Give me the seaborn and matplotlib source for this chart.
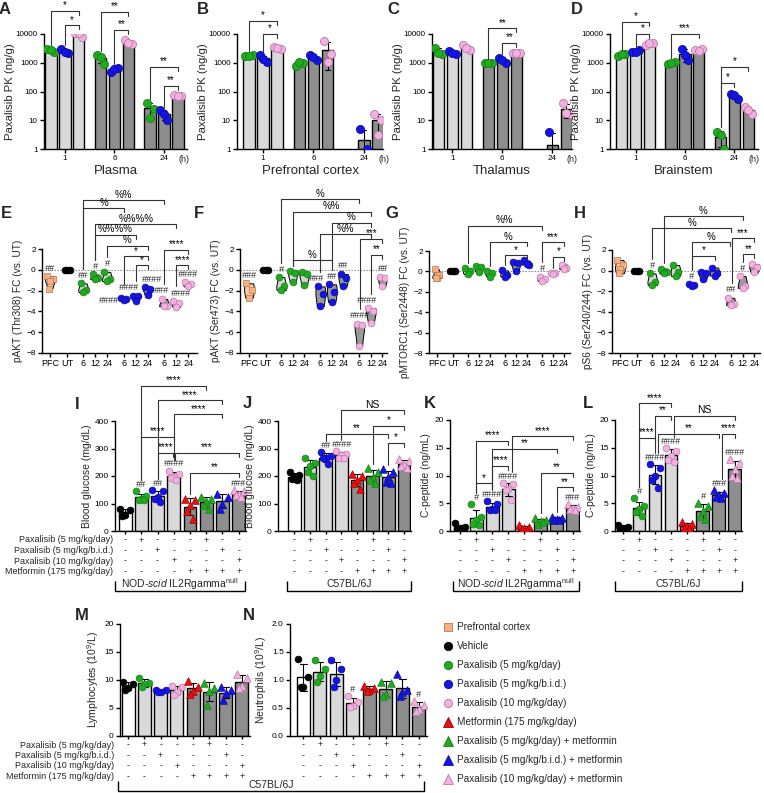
import numpy as np
import pandas as pd
import matplotlib
matplotlib.use("Agg")
import matplotlib.pyplot as plt
import seaborn as sns
from matplotlib.lines import Line2D
from matplotlib.ticker import NullLocator
from matplotlib.transforms import blended_transform_factory

sns.set_theme(style="ticks")
plt.rcParams["font.family"] = ["Liberation Sans", "DejaVu Sans"]
plt.rcParams["mathtext.fontset"] = "custom"
plt.rcParams["mathtext.rm"] = "Liberation Sans"
plt.rcParams["mathtext.it"] = "Liberation Sans:italic"
plt.rcParams["axes.linewidth"] = 1.0

# ------------------------------------------------------------------ data
PK_TIMES = ["1", "6", "24"]
# 9 bars per tissue: (1h: 5/day, 5 b.i.d., 10/day), (6h: ...), (24h: ...)
plasma_pts = [[3000, 2300, 2800], [3000, 2200, 2400], [11000, 8000, 11000],
              [1800, 900, 1600], [480, 650, 620], [6000, 4500, 5000],
              [40, 25, 12], [22, 10, 16], [75, 68, 72]]
pfc_pts = [[1700, 1900, 1700], [1800, 1100, 1400], [3500, 2900, 3200],
           [800, 1000, 1050], [1800, 1200, 1600], [5500, 2000, 1100],
           [], [5, 1, 0], [17, 10, 3]]
thal_pts = [[3300, 2000, 2100], [2500, 2000, 2100], [4200, 2800, 3200],
            [1000, 950, 1000], [1500, 1000, 1200], [2200, 2100, 2200],
            [], [4, 0, 0], [40, 17, 18]]
brain_pts = [[1700, 2000, 2000], [2300, 2800, 2300], [4000, 5000, 4700],
             [900, 1100, 1000], [3000, 1200, 1800], [2700, 2900, 2600],
             [4, 1, 3], [80, 55, 75], [28, 17, 22]]

# fold change panels: PFC, UT, 6/12/24 (5/day), 6/12/24 (5 b.i.d.), 6/12/24 (10/day)
FC_LABELS = ["PFC", "UT", "6", "12", "24", "6", "12", "24", "6", "12", "24"]
pakt308 = [[-0.6, -0.9, -1.1, -1.8], [0, 0, 0], [-1.3, -1.9, -2.15], [-0.45, -0.8, -0.9],
           [-0.2, -0.9, -1.1], [-2.75, -2.85, -2.9], [-2.5, -2.5, -3.0], [-1.7, -1.8, -2.4],
           [-2.8, -3.5, -3.45], [-3.0, -3.2, -3.6], [-1.2, -1.4, -1.6]]
pakt473 = [[-1.3, -1.9, -2.7], [0, 0, 0], [-0.7, -1.6, -1.95], [-0.1, -0.3, -1.2],
           [-0.2, -0.4, -1.5], [-1.6, -2.3, -3.5], [-1.4, -2.1, -3.1], [-0.4, -0.8, -1.6],
           [-5.2, -5.3, -7.3], [-3.7, -4.0, -5.1], [-0.65, -0.75, -1.6]]
pmtor = [[0.2, -0.35, -0.6, -0.65], [0, 0, 0], [0.33, 0.0, -0.27], [0.5, 0.4, -0.07],
         [0.0, -0.17, -0.5], [0.1, -0.33, -0.5], [0.9, 0.83, 0.0], [1.07, 0.67, 0.7],
         [-0.5, -0.77, -0.93], [-0.15, -0.17, -0.27], [0.67, 0.33, 0.23]]
ps6 = [[1.03, 0.54, 0.12, -0.27], [0, 0, 0], [-0.27, -1.08, -1.4], [0.2, -0.1, -0.27],
       [0.54, -0.1, -0.53], [-1.3, -1.4, -1.5], [-0.1, -0.2, -0.86], [0.3, -0.27, -0.5],
       [-2.64, -3.2, -3.36], [-0.53, -1.5, -1.67], [0.64, 0.31, -0.18]]

# 8 treatment groups: vehicle, pax 5/day, pax 5 bid, pax 10/day, metformin, + combos
glu_nsg = [[81, 76, 58, 55], [144, 126, 118, 114, 112], [148, 145, 124, 118, 105],
           [220, 208, 196, 193, 187], [118, 112, 95, 72, 45], [125, 118, 108, 95, 80],
           [136, 125, 100, 80], [150, 144, 136, 130, 124]]
glu_b6 = [[215, 205, 195, 190, 185], [264, 246, 236, 215, 199], [288, 272, 267, 264, 245],
          [292, 280, 275, 267, 264], [209, 199, 185, 175, 154], [228, 215, 195, 185, 175],
          [225, 215, 195, 180, 175], [262, 255, 245, 235, 228]]
cpep_nsg = [[1.4, 0.8, 0.6, 0.4, 0.3], [4.8, 2.6, 2.0, 1.3, 1.0], [5.4, 4.9, 4.0, 3.8, 3.7],
            [8.6, 8.4, 7.6, 7.3, 5.6], [1.0, 0.7, 0.5, 0.3, 0.25], [2.4, 1.9, 1.8, 1.3, 1.6],
            [2.6, 2.4, 2.2, 2.0, 1.9], [4.9, 4.3, 4.1, 3.9, 3.8]]
cpep_b6 = [[1.0, 0.7, 0.5, 0.4, 0.6], [5.9, 4.5, 3.9, 3.5, 2.7], [12.1, 11.4, 10.0, 9.2, 7.8],
           [15.0, 14.5, 13.6, 12.8, 12.4], [1.7, 1.2, 0.9, 0.6, 0.5], [5.0, 4.5, 3.6, 2.7, 2.1],
           [7.3, 6.8, 6.5, 6.2, 6.0], [13.0, 12.3, 11.2, 10.0, 9.5]]
lymph = [[9.6, 9.3, 8.5, 8.2], [10.4, 9.5, 9.2, 8.7], [8.3, 8.2, 7.9, 7.9], [9.0, 8.7, 7.8, 7.4],
         [9.8, 8.8, 8.0, 7.5], [9.5, 8.5, 8.0, 5.5], [8.75, 8.2, 7.6, 6.4], [11.0, 10.4, 9.0, 8.5]]
neutro = [[1.38, 1.05, 0.88, 0.88], [1.36, 1.2, 1.08, 0.96], [1.36, 1.2, 1.0, 0.88],
          [0.72, 0.6, 0.53, 0.52], [0.9, 0.85, 0.83, 0.8], [0.97, 0.95, 0.75, 0.72],
          [1.1, 0.82, 0.78, 0.72], [0.62, 0.55, 0.48, 0.45]]

ROW_LABELS = ["Paxalisib (5 mg/kg/day)", "Paxalisib (5 mg/kg/b.i.d.)",
              "Paxalisib (10 mg/kg/day)", "Metformin (175 mg/kg/day)"]
SIGNS = [["-", "+", "-", "-", "-", "+", "-", "-"],
         ["-", "-", "+", "-", "-", "-", "+", "-"],
         ["-", "-", "-", "+", "-", "-", "-", "+"],
         ["-", "-", "-", "-", "+", "+", "+", "+"]]
LEGEND_LABELS = ["Prefrontal cortex", "Vehicle", "Paxalisib (5 mg/kg/day)",
                 "Paxalisib (5 mg/kg/b.i.d.)", "Paxalisib (10 mg/kg/day)",
                 "Metformin (175 mg/kg/day)", "Paxalisib (5 mg/kg/day) + metformin",
                 "Paxalisib (5 mg/kg/b.i.d.) + metformin", "Paxalisib (10 mg/kg/day) + metformin"]

# significance annotations (text, from, to, bracket height)
A_BR = [("*", 0, 2, 4.8), ("*", 1, 2, 4.3), ("**", 3, 5, 4.78), ("**", 4, 5, 4.15),
        ("**", 6, 8, 2.85), ("**", 7, 8, 2.2)]
B_BR = [("*", 0, 2, 4.45), ("*", 1, 2, 4.0)]
C_BR = [("**", 3, 5, 4.2), ("**", 4, 5, 3.7)]
D_BR = [("*", 0, 2, 4.42), ("*", 1, 2, 4.0), ("***", 3, 5, 4.0), ("*", 6, 8, 2.86), ("*", 6, 7, 2.3)]
E_BR = [("%%", 2, 8, 6.7), ("%", 2, 5, 5.9), ("%%%%", 3, 9, 4.4), ("%%%%", 3, 6, 3.35),
        ("%", 4, 7, 2.3), ("*", 5, 7, 1.3), ("*", 6, 7, 0.45), ("****", 8, 10, 1.9), ("****", 9, 10, 0.45)]
F_BR = [("%", 2, 8, 6.8), ("%%", 3, 9, 5.56), ("%", 6, 9, 4.5), ("%%", 5, 9, 3.44),
        ("***", 8.05, 10, 2.96), ("**", 9, 10, 1.42), ("%", 3, 6, 0.94)]
G_BR = [("%%", 2, 8, 4.5), ("%", 4, 7, 2.87), ("*", 5, 7, 1.6), ("***", 8, 10, 2.87), ("*", 9, 10, 1.42)]
H_BR = [("%", 3, 9, 5.3), ("%", 2, 8, 4.1), ("%", 5, 7.95, 2.77), ("***", 8.05, 10, 3.15),
        ("*", 5, 7, 1.42), ("**", 9, 10, 1.6)]
I_BR = [("****", 1, 5, 527), ("****", 2, 6, 476), ("****", 3, 6, 425), ("****", 1, 3, 342),
        ("****", 2, 2.95, 284), ("***", 3.1, 7, 284), ("**", 4, 7, 211)]
J_BR = [("NS", 3, 7, 440), ("*", 5, 7, 383), ("**", 2, 6, 354), ("*", 6, 7, 321)]
K_BR = [("****", 1, 3, 16.25), ("****", 3.2, 7, 17.1), ("**", 2, 6, 14.8), ("****", 2, 3, 11.8),
        ("**", 5, 7, 10.5), ("*", 1, 2, 8.6), ("**", 6, 7, 7.9)]
L_BR = [("****", 1, 3, 23), ("**", 2, 3, 20.8), ("NS", 3.2, 7, 20.8), ("****", 1, 2, 16.8),
        ("**", 2.2, 6, 17.5), ("****", 6.2, 7, 17.5)]

# "#" marks vs. untreated/vehicle: index -> (text, x shift pt, y shift pt)
E_HASH = {0: ("##", 0, 2.5), 2: ("##", 0, 2.5), 3: ("#", 0, 2.5), 4: ("#", 0, 2.5),
          5: ("####", -11, -5), 6: ("####", -5, 2.5), 7: ("####", 3, 2.5), 8: ("###", -2, 2.5),
          9: ("####", 3, 2.5), 10: ("####", 0, 2.5)}
F_HASH = {0: ("###", 0, 2.5), 2: ("#", 0, 2.5), 5: ("###", -3, 2.5), 6: ("##", 0, 2.5),
          7: ("##", 0, 2.5), 8: ("####", 0, 2.5), 9: ("####", -3, 2.5), 10: ("##", 0, 2.5)}
G_HASH = {8: ("#", 0, 2.5)}
H_HASH = {2: ("#", 0, 2.5), 5: ("#", 0, 2.5), 8: ("##", 0, 2.5), 9: ("#", 0, 2.5)}
I_HASH = {1: "##", 2: "##", 3: "####", 7: "###"}
J_HASH = {2: "##", 3: "####"}
K_HASH = {1: "#", 2: "####", 3: "####", 7: "###"}
L_HASH = {1: "#", 2: "####", 3: "####", 5: "#", 6: "###", 7: "####"}
M_HASH = {}
N_HASH = {3: "#", 7: "#"}

# ------------------------------------------------------------------ style
GREEN, GREEN_E = "#1faa1f", "#178017"
BLUE, BLUE_E = "#1414e6", "#0c0c9a"
PINK, PINK_E = "#f5aee0", "#b77aa8"
RED, RED_E = "#e81010", "#a00000"
ORANGE, ORANGE_E = "#f5b183", "#b9794d"
LIGHT, DARK = "#d9d9d9", "#8e8e8e"
DOSE_COL = [GREEN, BLUE, PINK]
DOSE_EDGE = [GREEN_E, BLUE_E, PINK_E]
SPREAD = np.array([-0.25, 0.25, 0.0, -0.13, 0.13])
PK_STEP = 3.57
XPOS = [0, 1.45, 2.8, 3.8, 4.8, 6.2, 7.2, 8.2, 9.6, 10.6, 11.6]
VGRP = ["pfc", "ut", "g", "g", "g", "b", "b", "b", "p", "p", "p"]
VFILL = {"pfc": "#f8c9a6", "g": "#d4d4d4", "b": "#9a9a9a", "p": "#9a9a9a"}
VPT = {"pfc": (ORANGE, ORANGE_E, "s"), "ut": ("black", "black", "o"), "g": (GREEN, GREEN_E, "o"),
       "b": (BLUE, BLUE_E, "o"), "p": (PINK, PINK_E, "o")}
BAR_SHADE = ["veh", "pax", "pax", "pax", "met", "met", "met", "met"]
BAR_FILL = {"veh": "white", "pax": LIGHT, "met": DARK}
BAR_PT = [("black", "black", "o"), (GREEN, GREEN_E, "o"), (BLUE, BLUE_E, "o"), (PINK, PINK_E, "o"),
          (RED, RED_E, "^"), (GREEN, GREEN_E, "^"), (BLUE, BLUE_E, "^"), (PINK, PINK_E, "^")]

W, H = 764, 793
fig = plt.figure(figsize=(W / 100, H / 100), dpi=100)
RECTS = {}


def add_ax(key, l, t, r, b):
    ax = fig.add_axes([l / W, 1 - b / H, (r - l) / W, (b - t) / H])
    ax.patch.set_alpha(0)
    RECTS[key] = (l, t, r, b)
    return ax


def style_ax(ax, fs=6):
    sns.despine(ax=ax)
    for s in ("left", "bottom"):
        ax.spines[s].set_linewidth(1.0)
        ax.spines[s].set_color("black")
    ax.tick_params(axis="both", direction="out", length=3, width=1.0, colors="black",
                   labelsize=fs, pad=1.5)
    ax.set_xlabel("")


def ftext(px, py, s, **kw):
    fig.text(px / W, 1 - py / H, s, **kw)


def fline(xs, ys, lw=0.9, color="black"):
    fig.add_artist(Line2D([x / W for x in xs], [1 - y / H for y in ys], lw=lw, color=color,
                          transform=fig.transFigure, solid_capstyle="butt"))


def bracket(ax, x1, x2, ytop, text, yleft, fs=7):
    inv = fig.transFigure.inverted()
    p1 = ax.transData.transform((x1, ytop))
    p2 = ax.transData.transform((x2, ytop))
    pl = ax.transData.transform((x1, yleft))
    yl = min(pl[1], p1[1] - 4)
    ys = [yl, p1[1], p1[1], p1[1] - 4]
    xs = [p1[0], p1[0], p2[0], p2[0]]
    pts = inv.transform(np.column_stack([xs, ys]))
    fig.add_artist(Line2D(pts[:, 0], pts[:, 1], lw=0.8, color="#333333", transform=fig.transFigure))
    c = inv.transform(((p1[0] + p2[0]) / 2, p1[1] + 0.5))
    fig.text(c[0], c[1], text, ha="center", va="bottom", fontsize=fs if text != "NS" else 7.5,
             color="black")


def top_of(vals):
    a = np.asarray(vals, dtype=float)
    if a.size == 0:
        return 0.0
    sd = a.std(ddof=1) if a.size > 1 else 0.0
    return max(a.max(), a.mean() + sd)


# ------------------------------------------------------------------ row 1: PK
def pk_panel(key, rect, pts, xlabel, xlim, brackets):
    ax = add_ax(key, *rect)
    rows = []
    for i, vals in enumerate(pts):
        g, d = divmod(i, 3)
        for k, v in enumerate(vals):
            rows.append({"pos": g * PK_STEP + d, "x": g * PK_STEP + d + SPREAD[k], "val": v,
                         "shade": "light" if g == 0 else "dark", "dose": d})
    df = pd.DataFrame(rows)
    sns.barplot(data=df, x="pos", y="val", hue="shade", palette={"light": LIGHT, "dark": DARK},
                native_scale=True, dodge=False, estimator="mean", errorbar="sd", capsize=0.35,
                err_kws={"color": "black", "linewidth": 0.8}, width=0.82, edgecolor="black",
                linewidth=1.0, saturation=1, legend=False, ax=ax)
    for d in range(3):
        sub = df[(df.dose == d) & (df.val > 0)]
        sns.scatterplot(data=sub, x="x", y="val", color=DOSE_COL[d], edgecolor=DOSE_EDGE[d],
                        s=34, linewidth=0.6, legend=False, ax=ax, zorder=5)
    ax.set_yscale("log")
    ax.set_ylim(1, 10000)
    ax.set_yticks([1, 10, 100, 1000, 10000])
    ax.set_yticklabels(["1", "10", "100", "1000", "10000"])
    ax.yaxis.set_minor_locator(NullLocator())
    ax.set_xlim(*xlim)
    ax.set_xticks([1 + g * PK_STEP for g in range(3)])
    ax.set_xticklabels(PK_TIMES)
    style_ax(ax, fs=5.8)
    ax.set_ylabel("Paxalisib PK (ng/g)", fontsize=8.2, labelpad=0.8)
    ax.annotate("(h)", xy=(9.55, 0), xycoords=("data", "axes fraction"), xytext=(0, -4.5),
                textcoords="offset points", ha="center", va="top", fontsize=6.5)
    ax.text(0.5, -0.14, xlabel, transform=ax.transAxes, ha="center", va="top", fontsize=9.5)
    tops = [top_of([v for v in vals]) for vals in pts]
    for txt, i1, i2, e in brackets:
        x1 = (i1 // 3) * PK_STEP + i1 % 3
        x2 = (i2 // 3) * PK_STEP + i2 % 3
        bracket(ax, x1, x2, 10 ** e, txt, max(tops[i1], 1) * 1.35)
    return ax


pk_panel("A", (44, 34, 187, 149), plasma_pts, "Plasma", (-0.5, 9.8), A_BR)
pk_panel("B", (237, 34, 383, 149), pfc_pts, "Prefrontal cortex", (-0.85, 9.5), B_BR)
pk_panel("C", (432, 34, 572, 149), thal_pts, "Thalamus", (-0.45, 9.55), C_BR)
pk_panel("D", (610, 34, 758, 149), brain_pts, "Brainstem", (-0.85, 9.85), D_BR)


# ------------------------------------------------------------------ row 2: fold change
def fc_panel(key, rect, vals, ylabel, xlim, brackets, hashes):
    ax = add_ax(key, *rect)
    rows = []
    for i, vs in enumerate(vals):
        for k, v in enumerate(vs):
            rows.append({"pos": XPOS[i], "x": XPOS[i] + SPREAD[k] * 0.9, "val": v, "grp": VGRP[i]})
    df = pd.DataFrame(rows)
    ax.axhline(0, color="#808080", ls=(0, (1.2, 1.5)), lw=0.8, zorder=0)
    vdf = df[df.grp != "ut"]
    sns.violinplot(data=vdf, x="pos", y="val", hue="grp", palette=VFILL, native_scale=True,
                   dodge=False, cut=0, inner=None, width=0.85, density_norm="width",
                   linewidth=0.7, linecolor="black", saturation=1, legend=False, ax=ax)
    for g, (fc, ec, mk) in VPT.items():
        sub = df[df.grp == g]
        sns.scatterplot(data=sub, x="x", y="val", color=fc, edgecolor=ec, marker=mk, s=24,
                        linewidth=0.5, legend=False, ax=ax, zorder=5)
    ax.set_ylim(-8, 2)
    ax.set_yticks([-8, -6, -4, -2, 0, 2])
    ax.set_xlim(*xlim)
    ax.set_xticks(XPOS)
    ax.set_xticklabels(FC_LABELS)
    style_ax(ax)
    ax.tick_params(axis="x", labelsize=6.5)
    ax.set_ylabel(ylabel, fontsize=7.3, labelpad=2)
    tops = [max(v) for v in vals]
    for i, (t, dx, dy) in hashes.items():
        ax.annotate(t, (XPOS[i], tops[i]), xytext=(dx, dy), textcoords="offset points",
                    ha="center", va="bottom", fontsize=6.5, style="italic")
    for txt, i1, i2, yt in brackets:
        x1 = np.interp(i1, range(len(XPOS)), XPOS)
        x2 = np.interp(i2, range(len(XPOS)), XPOS)
        gap = 1.4 if int(round(i1)) in hashes else 0.5
        bracket(ax, x1, x2, yt, txt, tops[int(round(i1))] + gap)
    return ax


fc_panel("E", (42, 249, 197, 353), pakt308, "pAKT (Thr308) FC (vs. UT)", (-0.67, 12.35), E_BR, E_HASH)
fc_panel("F", (240, 249, 387, 353), pakt473, "pAKT (Ser473) FC (vs. UT)", (-0.78, 12.0), F_BR, F_HASH)
fc_panel("G", (429, 251, 570, 353), pmtor, "pMTORC1 (Ser2448) FC (vs. UT)", (-0.73, 12.15), G_BR, G_HASH)
fc_panel("H", (612, 250, 760, 353), ps6, "pS6 (Ser240/244) FC (vs. UT)", (-0.69, 12.1), H_BR, H_HASH)


# ------------------------------------------------------------------ rows 3/4: bars
def bar_panel(key, rect, pts, ylabel, ylim, yticks, xlim, brackets, hashes, ytl=None):
    ax = add_ax(key, *rect)
    rows = []
    for i, vs in enumerate(pts):
        for k, v in enumerate(vs):
            rows.append({"pos": i, "x": i + SPREAD[k] * 1.25, "val": v, "shade": BAR_SHADE[i], "grp": i})
    df = pd.DataFrame(rows)
    sns.barplot(data=df, x="pos", y="val", hue="shade", palette=BAR_FILL, native_scale=True,
                dodge=False, estimator="mean", errorbar="sd", capsize=0.4,
                err_kws={"color": "black", "linewidth": 0.8}, width=0.8, edgecolor="black",
                linewidth=1.0, saturation=1, legend=False, ax=ax)
    for i, (fc, ec, mk) in enumerate(BAR_PT):
        sub = df[df.grp == i]
        sns.scatterplot(data=sub, x="x", y="val", color=fc, edgecolor=ec, marker=mk,
                        s=30 if mk == "^" else 24, linewidth=0.5, legend=False, ax=ax, zorder=5)
    ax.set_ylim(*ylim)
    ax.set_yticks(yticks)
    if ytl is not None:
        ax.set_yticklabels(ytl)
    ax.set_xlim(*xlim)
    ax.set_xticks(range(8))
    ax.set_xticklabels([])
    style_ax(ax)
    ax.tick_params(axis="x", length=2.5)
    ax.set_ylabel(ylabel, fontsize=7.5, labelpad=2)
    tops = [top_of(v) for v in pts]
    for i, t in hashes.items():
        ax.annotate(t, (i, tops[i]), xytext=(0, 1.5), textcoords="offset points",
                    ha="center", va="bottom", fontsize=6.5, style="italic")
    for txt, i1, i2, yt in brackets:
        j = int(round(i1))
        gap = (ylim[1] - ylim[0]) * (0.1 if j in hashes else 0.04)
        bracket(ax, i1, i2, yt, txt, tops[j] + gap)
    return ax


def sign_table(key, ax, rows_px, labels_right=None):
    l, t, r, b = RECTS[key]
    tr = blended_transform_factory(ax.transData, ax.transAxes)
    for row, ypx in zip(SIGNS, rows_px):
        yf = (b - ypx) / (b - t)
        for i, s in enumerate(row):
            ax.text(i, yf, s, transform=tr, ha="center", va="center", fontsize=6.3)
    if labels_right is not None:
        for lab, ypx in zip(ROW_LABELS, rows_px):
            ftext(labels_right, ypx, lab, ha="right", va="center", fontsize=6.5)


def group_label(x1, x2, ytext, ybottom, text, fs=7.5):
    fline([x1, x1, x2, x2], [ybottom - 10, ybottom, ybottom, ybottom - 10], lw=1.0)
    ftext((x1 + x2) / 2, ytext, text, ha="center", va="center", fontsize=fs)


axI = bar_panel("I", (115, 421, 246, 531), glu_nsg, "Blood glucose (mg/dL)", (0, 400),
                [0, 100, 200, 300, 400], (-0.62, 7.45), I_BR, I_HASH)
axJ = bar_panel("J", (278, 421, 411, 531), glu_b6, "Blood glucose (mg/dL)", (0, 400),
                [0, 100, 200, 300, 400], (-1.05, 7.45), J_BR, J_HASH)
axK = bar_panel("K", (450, 420, 580, 531), cpep_nsg, "C-peptide (ng/mL)", (0, 20),
                [0, 5, 10, 15, 20], (-0.62, 7.45), K_BR, K_HASH)
axL = bar_panel("L", (615, 420, 742, 531), cpep_b6, "C-peptide (ng/mL)", (0, 20),
                [0, 5, 10, 15, 20], (-0.5, 7.45), L_BR, L_HASH)
axM = bar_panel("M", (120, 624, 250, 736), lymph, "Lymphocytes (10$^{9}$/L)", (0, 20),
                [0, 5, 10, 15, 20], (-0.5, 7.5), [], M_HASH)
axN = bar_panel("N", (290, 624, 427, 736), neutro, "Neutrophils (10$^{9}$/L)", (0, 2.0),
                [0, 0.5, 1.0, 1.5, 2.0], (-0.8, 7.5), [], N_HASH,
                ytl=["0.0", "0.5", "1.0", "1.5", "2.0"])

ROWS3 = [540, 550.5, 561, 571.5]
ROWS4 = [745, 755.5, 766, 776.5]
sign_table("I", axI, ROWS3, labels_right=113)
sign_table("J", axJ, ROWS3)
sign_table("K", axK, ROWS3)
sign_table("L", axL, ROWS3)
sign_table("M", axM, ROWS4, labels_right=114)
sign_table("N", axN, ROWS4)

NSG = r"NOD-$\mathit{scid}$ IL2Rgamma$^{\mathrm{null}}$"
group_label(115, 245, 584, 591, NSG)
group_label(287, 411, 584, 591, "C57BL/6J")
group_label(453, 579, 584, 591, NSG)
group_label(615, 742, 584, 591, "C57BL/6J")
group_label(118, 424, 785, 791, "C57BL/6J")

# ------------------------------------------------------------------ legend
LEG_STYLE = [(ORANGE, ORANGE_E, "s"), ("black", "black", "o"), (GREEN, GREEN_E, "o"),
             (BLUE, BLUE_E, "o"), (PINK, PINK_E, "o"), (RED, RED_E, "^"),
             (GREEN, GREEN_E, "^"), (BLUE, BLUE_E, "^"), (PINK, PINK_E, "^")]
for k, (lab, (fc, ec, mk)) in enumerate(zip(LEGEND_LABELS, LEG_STYLE)):
    y = 627 + 19 * k
    fig.add_artist(Line2D([448 / W], [1 - y / H], marker=mk, markersize=6 if mk != "^" else 6.5,
                          markerfacecolor=fc, markeredgecolor=ec, markeredgewidth=0.6,
                          linestyle="none", transform=fig.transFigure))
    ftext(457, y, lab, ha="left", va="center", fontsize=7.2)

# ------------------------------------------------------------------ panel letters
for letter, (px, py) in {"A": (5, 9), "B": (203, 9), "C": (393, 9), "D": (577, 9),
                         "E": (6, 214), "F": (199, 214), "G": (392, 214), "H": (580, 214),
                         "I": (77, 404), "J": (247, 403), "K": (430, 403), "L": (588, 403),
                         "M": (82, 615), "N": (249, 615)}.items():
    ftext(px, py, letter, ha="center", va="center", fontsize=12, fontweight="bold")

fig.savefig("out.png", dpi=100)
